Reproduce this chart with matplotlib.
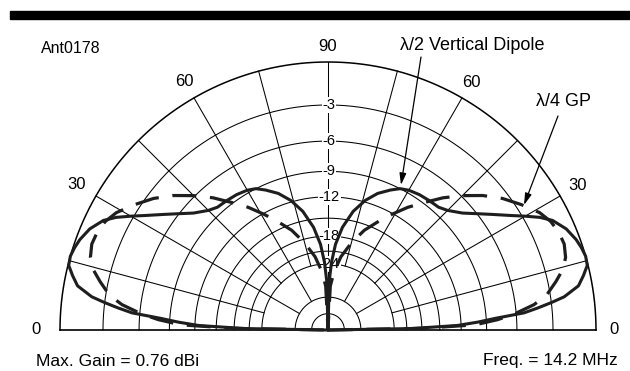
import matplotlib
matplotlib.use("Agg")
import matplotlib.pyplot as plt
from matplotlib.patches import Rectangle
import numpy as np

plt.rcParams['font.family'] = ['Liberation Sans', 'DejaVu Sans']

# elevation pattern, half-wave vertical dipole (elevation deg, gain dB)
dipole_el = [0, 1, 2, 3, 4, 5, 6, 7, 8, 10, 12, 14, 16, 18, 20, 23, 26, 28,
             30, 32, 35, 38, 41, 45, 48, 52, 56, 60, 63, 66, 70, 74, 78, 82,
             85, 87, 88.5, 90]
dipole_db = [-99, -20, -12.5, -10, -8, -5.3, -4.1, -3.0, -2.0, -0.9, -0.45,
             -0.05, 0, -0.1, -0.25, -0.6, -1.2, -1.9, -2.8, -3.7, -4.9, -6.0,
             -7.0, -7.9, -8.3, -8.4, -8.5, -8.7, -9.0, -9.6, -10.5, -11.8,
             -13.6, -16.3, -19.5, -23.5, -29, -99]

# quarter-wave ground plane
gp_el = [0, 1, 2, 3.5, 5, 7, 9, 12, 14.5, 17, 20, 23, 26, 29, 33, 37, 41, 45,
         49, 53, 57, 61, 65, 70, 75, 80, 84, 87, 90]
gp_db = [-99, -18, -10.3, -7.8, -6.1, -4.4, -3.3, -2.4, -1.7, -1.3, -1.1,
         -1.15, -1.35, -1.75, -2.6, -3.5, -4.6, -5.9, -7.3, -8.9, -10.4,
         -12.1, -13.8, -15.9, -18.7, -22, -26, -31, -99]

ring_db = [0, -3, -6, -9, -12, -15, -18, -21, -24, -36, -48]
label_db = [-3, -6, -9, -12, -18, -24]
angle_ticks = [0, 30, 60, 90, 120, 150, 180]
angle_text = ['0', '30', '60', '90', '60', '30', '0']
angle_rad = [1.067, 1.075, 1.068, 1.057, 1.069, 1.085, 1.091]


def arrl(db):
    # ARRL log scale: every 2 dB shrinks the radius by a factor 0.89
    return 0.89 ** (-np.asarray(db, dtype=float) / 2.0)


def xy(theta_deg, r):
    t = np.radians(theta_deg)
    return r * np.cos(t), r * np.sin(t)


def full(el, db):
    # mirror the pattern onto the other half of the plot
    th = list(el) + [180 - e for e in reversed(el)]
    g = list(db) + list(reversed(db))
    return np.array(th), arrl(g)


fig = plt.figure(figsize=(6.3, 3.71), dpi=100)
ax = fig.add_axes([0, 0, 1, 1])
R = 268.0
ax.set_xlim(-328 / R, 302 / R)
ax.set_ylim(-41 / R, 330 / R)
ax.axis('off')

# grid rings
th = np.linspace(0, 180, 361)
for d in ring_db:
    x, y = xy(th, arrl(d))
    ax.plot(x, y, color='k', lw=1.1 if d == 0 else 0.75, zorder=1)

# spokes every 15 degrees
for a in range(15, 180, 15):
    if a == 90:
        continue
    inner = arrl(-36) if a % 30 == 0 else arrl(-24)
    x, y = xy(np.array([a, a]), np.array([inner, 1.0]))
    ax.plot(x, y, color='k', lw=0.75, zorder=1)
ax.plot([0, 0], [0, 1], color='k', lw=0.75, zorder=1)
ax.plot([-1, 1], [0, 0], color='k', lw=1.2, zorder=1)

for d in label_db:
    ax.text(0.004, arrl(d), '%d' % d, fontsize=10.5, ha='center', va='center',
            bbox=dict(facecolor='white', edgecolor='none', pad=0.6), zorder=2)

for a, s, rr in zip(angle_ticks, angle_text, angle_rad):
    x, y = xy(a, rr)
    ax.text(x, y, s, fontsize=12, ha='center', va='center')

# the two patterns
t, r = full(dipole_el, dipole_db)
x, y = xy(t, r)
ax.plot(x, y, color='#1e1e1e', lw=2.2, solid_joinstyle='round', zorder=4)

t, r = full(gp_el, gp_db)
x, y = xy(t, r)
ax.plot(x, y, color='#1e1e1e', lw=2.3, dashes=(7.5, 4.3),
        dash_capstyle='butt', zorder=4)


def px(u, v):
    return (u - 328) / R, (330 - v) / R


ax.annotate('', xy=px(401, 185), xytext=px(421, 57),
            arrowprops=dict(arrowstyle='-|>,head_length=0.7,head_width=0.2',
                            color='k', lw=0.9, shrinkA=0, shrinkB=0), zorder=5)
ax.annotate('', xy=px(524, 205), xytext=px(558, 116),
            arrowprops=dict(arrowstyle='-|>,head_length=0.7,head_width=0.2',
                            color='k', lw=0.9, shrinkA=0, shrinkB=0), zorder=5)
ax.text(*px(472, 45), 'λ/2 Vertical Dipole', fontsize=13, ha='center', va='center')
ax.text(*px(564, 102), 'λ/4 GP', fontsize=13, ha='center', va='center')

ax.text(*px(41, 48.5), 'Ant0178', fontsize=11.5, ha='left', va='center')
ax.text(*px(36, 361), 'Max. Gain = 0.76 dBi', fontsize=12.5, ha='left', va='center')
ax.text(*px(618, 361), 'Freq. = 14.2 MHz', fontsize=12.5, ha='right', va='center')

# heavy rule across the top
fig.patches.append(Rectangle((10 / 630, 1 - 19 / 371), 620 / 630, 8 / 371,
                             transform=fig.transFigure, color='k'))

fig.savefig('out.png', dpi=100)
